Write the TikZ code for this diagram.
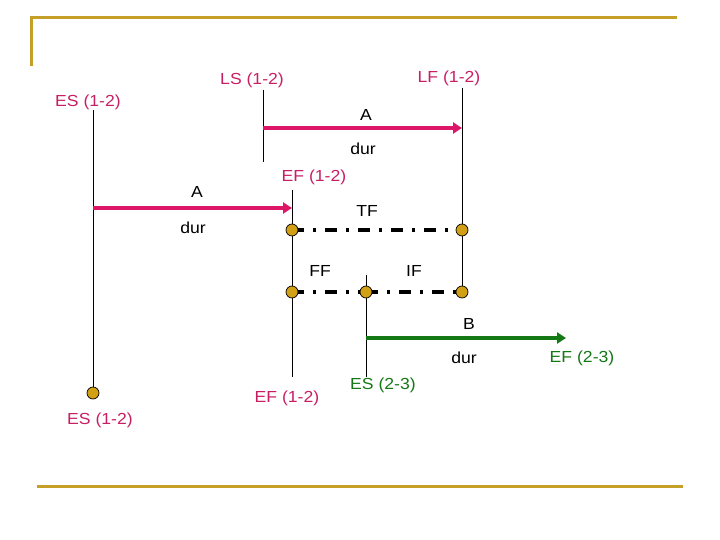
\documentclass[tikz,border=0pt]{standalone}
\usepackage{fontspec}
\setmainfont[FakeStretch=1.1]{Liberation Sans}
\usetikzlibrary{arrows.meta}
\definecolor{gold}{RGB}{196,160,40}
\definecolor{mag}{RGB}{222,22,104}
\definecolor{magtext}{RGB}{200,30,100}
\definecolor{grn}{RGB}{20,120,20}
\definecolor{dotgold}{RGB}{210,160,20}
\begin{document}
\begin{tikzpicture}[x=1pt,y=-1pt,font=\fontsize{16}{18}\selectfont,
  lbl/.style={inner sep=0pt,anchor=center},
  ml/.style={lbl,text=magtext},
  gl/.style={lbl,text=grn},
  bl/.style={lbl,text=black},
  vline/.style={draw=black,line width=0.9pt},
  bararrow/.style={line width=4pt,-{Triangle[length=9pt,width=11pt]}},
  dashdot/.style={draw=black,line width=4pt,dash pattern=on 12pt off 9pt on 3pt off 9pt},
  pt/.style={circle,fill=dotgold,draw=black,line width=0.7pt,minimum size=12pt,inner sep=0pt},
  frame/.style={draw=gold,line width=3pt}]
\useasboundingbox (0,0) rectangle (720,540);
% frame
\draw[frame] (31,66) -- (31,18) -- (677,18);
\draw[frame] (37,486) -- (683,486);
% labels
\node[ml] (es1) at (88,102) {ES (1-2)};
\node[ml] (ls) at (252,80) {LS (1-2)};
\node[ml] (lf) at (449,78) {LF (1-2)};
\node[ml] (ef1) at (314,177) {EF (1-2)};
\node[ml] (es1b) at (100,420) {ES (1-2)};
\node[ml] (ef1b) at (287,398) {EF (1-2)};
\node[gl] (es2) at (383,385) {ES (2-3)};
\node[gl] (ef2) at (582,358) {EF (2-3)};
\node[bl] (la1) at (366,115) {A};
\node[bl] (ld1) at (363,149) {dur};
\node[bl] (la2) at (197,192) {A};
\node[bl] (ld2) at (193,228) {dur};
\node[bl] (ltf) at (367,211) {TF};
\node[bl] (lff) at (320,271) {FF};
\node[bl] (lif) at (414,271) {IF};
\node[bl] (lb) at (469,324) {B};
\node[bl] (ldb) at (464,358) {dur};
% coordinates
\coordinate (esTop) at (93,110);
\coordinate (esBot) at (93,393);
\coordinate (lsTop) at (263,90);
\coordinate (lsBot) at (263,162);
\coordinate (lfTop) at (462,88);
\coordinate (lfBot) at (462,292);
\coordinate (efTop) at (292,190);
\coordinate (efBot) at (292,377);
\coordinate (esTwoTop) at (366,275);
\coordinate (esTwoBot) at (366,377);
\coordinate (a1s) at (263,128);
\coordinate (a1e) at (462,128);
\coordinate (a2s) at (93,208);
\coordinate (a2e) at (292,208);
\coordinate (bs) at (366,338);
\coordinate (be) at (566,338);
\coordinate (tfL) at (292,230);
\coordinate (tfR) at (462,230);
\coordinate (ffL) at (292,292);
\coordinate (ffM) at (366,292);
\coordinate (ffR) at (462,292);
% vertical lines
\draw[vline] (esTop) -- (esBot);
\draw[vline] (lsTop) -- (lsBot);
\draw[vline] (lfTop) -- (lfBot);
\draw[vline] (efTop) -- (efBot);
\draw[vline] (esTwoTop) -- (esTwoBot);
% arrows
\draw[bararrow,mag] (a1s) -- (a1e);
\draw[bararrow,mag] (a2s) -- (a2e);
\draw[bararrow,grn] (bs) -- (be);
% dash-dot
\draw[dashdot] (tfL) -- (tfR);
\draw[dashdot] (ffL) -- (ffM);
\draw[dashdot] (ffM) -- (ffR);
% dots
\node[pt] (d1) at (esBot) {};
\node[pt] (d2) at (tfL) {};
\node[pt] (d3) at (tfR) {};
\node[pt] (d4) at (ffL) {};
\node[pt] (d5) at (ffM) {};
\node[pt] (d6) at (ffR) {};
\end{tikzpicture}
\end{document}
